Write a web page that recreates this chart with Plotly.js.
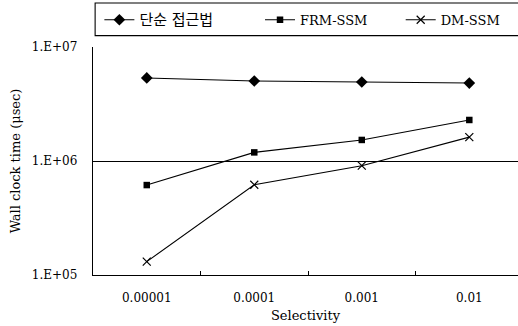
<!DOCTYPE html>
<html><head><meta charset="utf-8">
<script src="https://cdn.plot.ly/plotly-3.0.1.min.js"></script>
<style>html,body{margin:0;padding:0;background:#fff}</style>
</head><body>
<div id="chart" style="width:518px;height:326px"></div>
<script>
const categories = ["0.00001", "0.0001", "0.001", "0.01"];
const simpleApproach = [5.35e6, 5.03e6, 4.93e6, 4.83e6];
const frmSsm = [6.15e5, 1.19e6, 1.53e6, 2.29e6];
const dmSsm = [1.31e5, 6.19e5, 9.1e5, 1.62e6];
const seriesNames = ["<span style=\"font-size:15px\">단순 접근법</span>", "FRM-SSM", "DM-SSM"];
const yTickVals = [1e5, 1e6, 1e7];
const yTickText = ["1.E+05", "1.E+06", "1.E+07"];

const FONT = "DejaVu Serif, Noto Sans CJK KR, serif";
const lineStyle = {color: "#000", width: 1.1};

const traces = [
  {x: categories, y: simpleApproach, name: seriesNames[0], type: "scatter", mode: "lines+markers",
   line: lineStyle, marker: {symbol: "diamond", size: 9, color: "#000"}, legend: "legend"},
  {x: categories, y: frmSsm, name: seriesNames[1], type: "scatter", mode: "lines+markers",
   line: lineStyle, marker: {symbol: "square", size: 6.5, color: "#000"}, legend: "legend2"},
  {x: categories, y: dmSsm, name: seriesNames[2], type: "scatter", mode: "lines+markers",
   line: lineStyle, marker: {symbol: "x-thin-open", size: 8, color: "#000", line: {color: "#000", width: 1.2}}, legend: "legend3"}
];

const legBase = {orientation: "h", xanchor: "left", yanchor: "top", y: 1.185,
  bgcolor: "rgba(0,0,0,0)", borderwidth: 0, font: {family: FONT, size: 13, color: "#000"}};

const layout = {
  width: 518, height: 326,
  margin: {l: 93, r: 0, t: 47, b: 51},
  paper_bgcolor: "#fff", plot_bgcolor: "#fff",
  font: {family: FONT, size: 12, color: "#000"},
  showlegend: true,
  legend: Object.assign({}, legBase, {x: 0.015}),
  legend2: Object.assign({}, legBase, {x: 0.393}),
  legend3: Object.assign({}, legBase, {x: 0.724}),
  xaxis: {
    type: "category", range: [-0.5, 3.453],
    showline: true, linecolor: "#000", linewidth: 1.2,
    showgrid: false, zeroline: false,
    ticks: "inside", tickson: "boundaries", ticklen: 4, tickcolor: "#000",
    ticklabelstandoff: 11,
    tickfont: {family: FONT, size: 12},
    title: {text: "Selectivity", font: {family: FONT, size: 13}, standoff: 7}
  },
  yaxis: {
    type: "log", range: [5, 7],
    tickvals: yTickVals, ticktext: yTickText,
    showline: true, linecolor: "#000", linewidth: 1.2,
    showgrid: true, gridcolor: "#000", gridwidth: 1,
    zeroline: false, ticks: "", ticklabelstandoff: 12,
    tickfont: {family: FONT, size: 12},
    title: {text: "Wall clock time (μsec)", font: {family: FONT, size: 13}, standoff: 8}
  },
  shapes: [
    {type: "rect", xref: "paper", yref: "paper", x0: 0.005, x1: 1.05, y0: 1.05, y1: 1.193,
     line: {color: "#000", width: 1.1}, fillcolor: "rgba(0,0,0,0)"}
  ]
};

Plotly.newPlot("chart", traces, layout, {displayModeBar: false, staticPlot: true});
</script>
</body></html>
